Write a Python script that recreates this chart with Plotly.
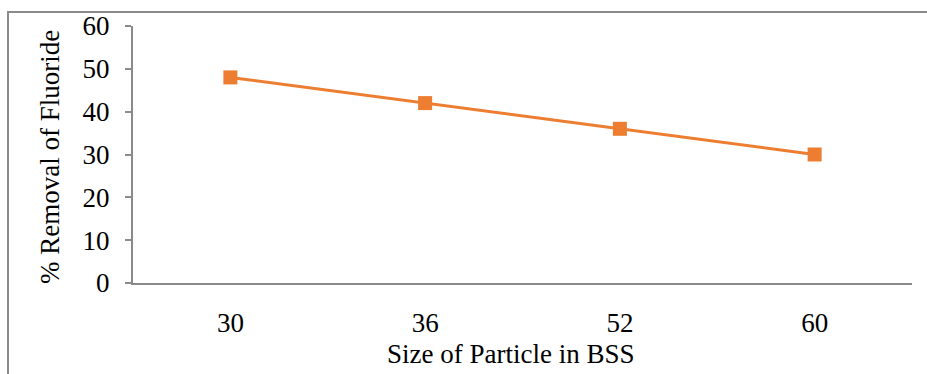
import plotly.graph_objects as go

# Particle size categories (BSS mesh) and fluoride removal (%)
sizes = ["30", "36", "52", "60"]
removal = [48, 42, 36, 30]

y_ticks = [0, 10, 20, 30, 40, 50, 60]

W, H = 927, 374
L, R, T, B = 133, 15, 26, 91
pw = W - L - R
ph = H - T - B

def px_x(p):
    return (p - L) / pw

def px_y(p):
    return (H - B - p) / ph

font_family = "Liberation Serif, Times New Roman, serif"
fs = 27
axis_grey = "#8a8a8a"
orange = "#ED7D31"

fig = go.Figure()
fig.add_trace(go.Scatter(
    x=sizes,
    y=removal,
    mode="lines+markers",
    line=dict(color=orange, width=3),
    marker=dict(symbol="square", size=14, color=orange),
    showlegend=False,
))

fig.update_layout(
    width=W,
    height=H,
    margin=dict(l=L, r=R, t=T, b=B),
    paper_bgcolor="white",
    plot_bgcolor="white",
    font=dict(family=font_family, size=fs, color="black"),
    xaxis=dict(
        type="category",
        range=[-0.5, 3.5],
        showgrid=False,
        zeroline=False,
        showline=True,
        linecolor=axis_grey,
        linewidth=2,
        ticks="",
        ticklabelstandoff=15,
        tickfont=dict(family=font_family, size=fs),
    ),
    yaxis=dict(
        range=[0, 60],
        tickvals=y_ticks,
        showgrid=False,
        zeroline=False,
        showline=True,
        linecolor=axis_grey,
        linewidth=2,
        ticks="outside",
        ticklen=6,
        tickcolor=axis_grey,
        tickwidth=1.5,
        ticklabelstandoff=10,
        tickfont=dict(family=font_family, size=fs),
    ),
    shapes=[
        # chart frame
        dict(
            type="rect", xref="paper", yref="paper",
            x0=px_x(8), x1=px_x(W + 20),
            y0=px_y(H + 20), y1=px_y(12),
            line=dict(color=axis_grey, width=2),
            fillcolor="rgba(0,0,0,0)",
            layer="below",
        ),
    ],
    annotations=[
        dict(
            text="Size of Particle in BSS",
            xref="paper", yref="paper",
            x=px_x(510), y=px_y(354),
            showarrow=False,
            xanchor="center", yanchor="middle",
            font=dict(family=font_family, size=fs),
        ),
        dict(
            text="% Removal of Fluoride",
            xref="paper", yref="paper",
            x=px_x(50), y=px_y(157),
            showarrow=False, textangle=-90,
            xanchor="center", yanchor="middle",
            font=dict(family=font_family, size=fs),
        ),
    ],
)

fig.write_html("out.html")
